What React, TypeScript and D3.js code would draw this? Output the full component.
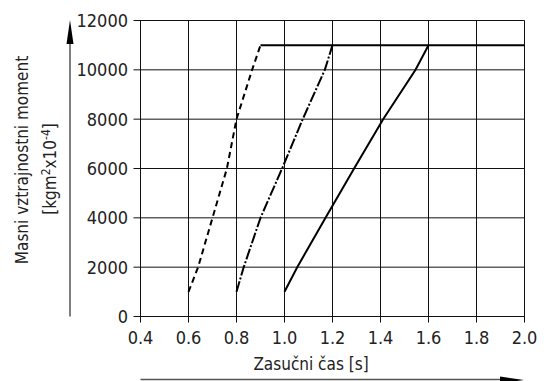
import * as d3 from 'd3'

// Zasučni čas [s] -> masni vztrajnostni moment
const xTicks = [0.4, 0.6, 0.8, 1.0, 1.2, 1.4, 1.6, 1.8, 2.0]
const yTicks = [0, 2000, 4000, 6000, 8000, 10000, 12000]

const dashedTime = [0.6, 0.64, 0.7, 0.76, 0.8, 0.865, 0.9]
const dashedMoment = [1000, 2000, 4000, 6000, 8000, 10000, 11000]

const dashDotTime = [0.8, 0.83, 0.9, 0.99, 1.076, 1.168, 1.2]
const dashDotMoment = [1000, 2000, 4000, 6000, 8000, 10000, 11000]

const solidTime = [1.0, 1.053, 1.171, 1.29, 1.411, 1.546, 1.6]
const solidMoment = [1000, 2000, 4000, 6000, 8000, 10000, 11000]

const limitTime = [0.9, 2.0]
const limitMoment = [11000, 11000]

const FONT = '"DejaVu Sans Condensed", "DejaVu Sans", sans-serif'

type Pt = [number, number]
const zip = (xs: number[], ys: number[]): Pt[] => xs.map((x, i) => [x, ys[i]])

export default function App() {
  const width = 547
  const height = 381
  const x = d3.scaleLinear().domain([0.4, 2.0]).range([140.5, 524.5])
  const y = d3.scaleLinear().domain([0, 12000]).range([316.5, 20.5])

  const line = d3
    .line<Pt>()
    .x((d) => x(d[0]))
    .y((d) => y(d[1]))

  const series = [
    { pts: zip(dashedTime, dashedMoment), dash: '6,4' },
    { pts: zip(dashDotTime, dashDotMoment), dash: '11,2,2,2' },
    { pts: zip(solidTime, solidMoment), dash: undefined },
    { pts: zip(limitTime, limitMoment), dash: undefined },
  ]

  const left = x(0.4)
  const right = x(2.0)
  const top = y(12000)
  const bottom = y(0)

  return (
    <svg
      width={width}
      height={height}
      style={{ position: 'absolute', left: 0, top: 0, display: 'block', background: '#fff' }}
      fontFamily={FONT}
    >
      {/* mreža */}
      {xTicks.map((t) => (
        <line key={'vx' + t} x1={x(t)} x2={x(t)} y1={top} y2={bottom + 6} stroke="#111" strokeWidth={1} />
      ))}
      {yTicks.map((t) => (
        <line key={'hy' + t} x1={left - 7} x2={right} y1={y(t)} y2={y(t)} stroke="#111" strokeWidth={1} />
      ))}

      {/* oznake osi */}
      {yTicks.map((t) => (
        <text key={'ty' + t} x={128} y={y(t)} dy="0.36em" textAnchor="end" fontSize={18} fill="#222">
          {t}
        </text>
      ))}
      {xTicks.map((t) => (
        <text key={'tx' + t} x={x(t)} y={344} textAnchor="middle" fontSize={18} fill="#222">
          {t.toFixed(1)}
        </text>
      ))}

      {/* krivulje */}
      {series.map((s, i) => (
        <path
          key={i}
          d={line(s.pts) ?? ''}
          fill="none"
          stroke="#000"
          strokeWidth={2}
          strokeDasharray={s.dash}
        />
      ))}

      {/* puščica y */}
      <line x1={70} x2={70} y1={40} y2={bottom} stroke="#555" strokeWidth={1.5} />
      <path d="M70,20 L66.5,44 L73.5,44 Z" fill="#000" />
      <text
        transform="translate(28,160) rotate(-90)"
        textAnchor="middle"
        fontSize={17}
        fill="#222"
      >
        Masni vztrajnostni moment
      </text>
      <text
        transform="translate(56,169) rotate(-90)"
        textAnchor="middle"
        fontSize={17}
        fill="#222"
      >
        [kgm<tspan dy={-6} fontSize={12}>2</tspan>
        <tspan dy={6}>x10</tspan>
        <tspan dy={-6} fontSize={12}>-4</tspan>
        <tspan dy={6}>]</tspan>
      </text>

      {/* puščica x */}
      <line x1={left} x2={505} y1={379.5} y2={379.5} stroke="#555" strokeWidth={1.5} />
      <path d="M524,380 L500,376.5 L500,383.5 Z" fill="#000" />
      <text x={311} y={370} textAnchor="middle" fontSize={17} fill="#222">
        Zasučni čas [s]
      </text>
    </svg>
  )
}
